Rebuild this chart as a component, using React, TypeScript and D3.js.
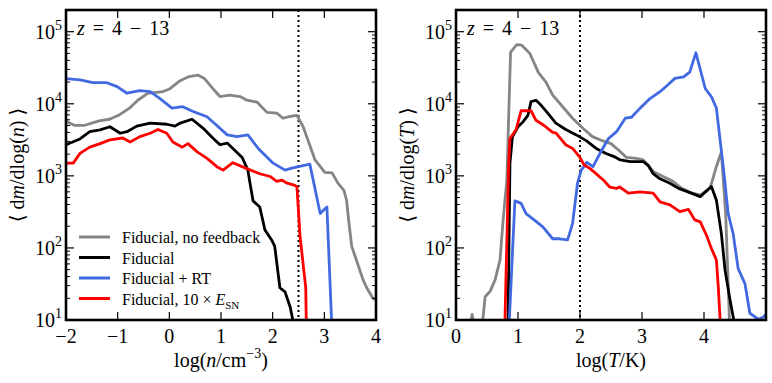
import React from 'react'
import * as d3 from 'd3'

type Pt = [number, number]

// left panel: log(n / cm^-3) vs <dm/dlog(n)>
const densityNoFeedback: Pt[] = [
	[-2.0, 5700], [-1.83, 5000], [-1.65, 5000], [-1.36, 5800], [-1.16, 6100], [-0.97, 7000], [-0.77, 8700],
	[-0.61, 11200], [-0.42, 13900], [-0.13, 14700], [0.0, 16000], [0.19, 20500], [0.36, 23600], [0.55, 25000],
	[0.68, 22400], [0.84, 16300], [0.98, 12600], [1.17, 13200], [1.37, 12600], [1.50, 11200], [1.70, 10500],
	[1.89, 7600], [2.08, 7400], [2.20, 6300], [2.34, 6700], [2.47, 6900], [2.59, 4800], [2.82, 1660],
	[3.01, 1120], [3.15, 1100], [3.26, 800], [3.38, 630], [3.43, 460], [3.47, 245], [3.53, 105], [3.62, 68],
	[3.75, 36], [3.82, 28], [3.94, 20], [4.0, 19],
]
const densityFiducial: Pt[] = [
	[-2.0, 2700], [-1.73, 3250], [-1.54, 4100], [-1.34, 4350], [-1.15, 4800], [-0.95, 3900], [-0.82, 4100],
	[-0.63, 4900], [-0.37, 5400], [-0.05, 5200], [0.11, 4900], [0.21, 5400], [0.44, 6100], [0.65, 4600],
	[0.85, 3300], [0.98, 2700], [1.12, 2850], [1.23, 2400], [1.41, 1800], [1.52, 1200], [1.56, 800],
	[1.62, 450], [1.75, 370], [1.85, 178], [1.98, 129], [2.04, 105], [2.14, 28], [2.24, 24.5], [2.34, 15],
	[2.39, 10],
]
const densityRT: Pt[] = [
	[-2.0, 22400], [-1.73, 21400], [-1.48, 19600], [-1.21, 19600], [-1.01, 17300], [-0.82, 14000],
	[-0.57, 15200], [-0.37, 14700], [-0.18, 11800], [0.05, 8700], [0.26, 9100], [0.46, 7800], [0.73, 6600],
	[0.92, 5000], [1.12, 3700], [1.31, 3500], [1.52, 3700], [1.72, 2400], [2.01, 1500], [2.24, 1200],
	[2.37, 1280], [2.72, 1450], [2.92, 300], [3.05, 370], [3.14, 10],
]
const densityESN: Pt[] = [
	[-2.0, 1500], [-1.86, 1500], [-1.73, 2050], [-1.54, 2500], [-1.34, 2800], [-1.15, 3150], [-0.90, 3350],
	[-0.76, 2950], [-0.57, 3500], [-0.37, 3900], [-0.22, 4400], [-0.05, 3900], [0.07, 2950], [0.25, 2500],
	[0.36, 2800], [0.54, 2150], [0.73, 1750], [0.92, 1340], [1.04, 1200], [1.23, 1520], [1.50, 1260],
	[1.75, 1070], [1.95, 980], [2.08, 840], [2.18, 870], [2.28, 790], [2.43, 740], [2.47, 700], [2.53, 145],
	[2.64, 28], [2.65, 10],
]

// right panel: log(T / K) vs <dm/dlog(T)>
const tempNoFeedback: Pt[] = [
	[0.20, 6], [0.26, 12], [0.31, 7], [0.42, 8], [0.47, 21], [0.55, 25], [0.63, 36], [0.71, 68], [0.76, 245],
	[0.82, 870], [0.88, 52000], [0.98, 66000], [1.06, 65000], [1.19, 50000], [1.33, 27000], [1.45, 20000],
	[1.56, 13200], [1.72, 9100], [1.88, 6300], [2.02, 4800], [2.20, 3500], [2.37, 3050], [2.5, 2800],
	[2.62, 2280], [2.75, 1800], [2.91, 1750], [3.02, 1660], [3.18, 1150], [3.34, 980], [3.50, 840],
	[3.64, 670], [3.80, 580], [3.94, 540], [4.10, 680], [4.20, 1350], [4.28, 2150], [4.35, 300], [4.41, 10],
]
const tempFiducial: Pt[] = [
	[0.84, 10], [0.87, 1500], [0.91, 3470], [1.0, 4800], [1.08, 5600], [1.16, 6900], [1.21, 10700],
	[1.29, 11200], [1.37, 9600], [1.48, 7400], [1.61, 5400], [1.77, 4400], [1.94, 3700], [2.10, 3080],
	[2.26, 2400], [2.42, 2040], [2.55, 1850], [2.65, 1660], [2.81, 1580], [3.02, 1580], [3.10, 1400],
	[3.18, 1070], [3.29, 910], [3.45, 790], [3.59, 670], [3.72, 610], [3.94, 515], [4.12, 710], [4.2, 460],
	[4.28, 158], [4.34, 49], [4.42, 19], [4.48, 10],
]
const tempRT: Pt[] = [
	[0.86, 10], [0.95, 450], [1.05, 415], [1.13, 300], [1.26, 245], [1.40, 196], [1.56, 134], [1.67, 134],
	[1.80, 129], [1.88, 218], [1.96, 790], [2.02, 1200], [2.11, 1540], [2.21, 1340], [2.32, 2040],
	[2.46, 3300], [2.59, 4100], [2.73, 6300], [2.83, 6500], [2.97, 8700], [3.13, 11800], [3.29, 14700],
	[3.42, 18400], [3.53, 22500], [3.67, 23600], [3.77, 27500], [3.87, 51000], [4.02, 16300], [4.12, 12500],
	[4.20, 8700], [4.31, 1340], [4.39, 300], [4.47, 158], [4.55, 52], [4.66, 32], [4.74, 12.4], [4.88, 10.2],
	[4.96, 11], [5.0, 12],
]
const tempESN: Pt[] = [
	[0.79, 10], [0.85, 1500], [0.87, 3300], [0.97, 4400], [1.05, 8000], [1.21, 8000], [1.29, 5900],
	[1.42, 5000], [1.56, 4000], [1.61, 3950], [1.77, 2700], [1.88, 2400], [1.99, 1850], [2.07, 1400],
	[2.16, 1270], [2.38, 870], [2.48, 700], [2.59, 670], [2.64, 700], [2.78, 575], [2.97, 600], [3.18, 575],
	[3.29, 435], [3.45, 395], [3.61, 318], [3.75, 342], [3.85, 245], [3.94, 230], [4.04, 150], [4.12, 98],
	[4.20, 68], [4.23, 29], [4.26, 10],
]

const densityTicks = [-2, -1, 0, 1, 2, 3, 4]
const tempTicks = [0, 1, 2, 3, 4, 5]
const tempTickLabels = [0, 1, 2, 3, 4]
const yDecades = [1, 2, 3, 4, 5]
const legendLabels = ['Fiducial, no feedback', 'Fiducial', 'Fiducial + RT', 'Fiducial, 10 × E']

const COLORS = ['#858585', '#000000', '#4169e1', '#ff0000']
const FONT = '"Liberation Serif", "DejaVu Serif", serif'
const Y_DOMAIN: [number, number] = [10, 2e5]
const TOP = 10
const BOTTOM = 320
const WIDTH = 310

function fmtTick(v: number) {
	return v < 0 ? '\u2212' + Math.abs(v) : String(v)
}

function Panel(props: any) {
	const { id, left, xDomain, xTicks, xTickLabels, series, refX, xLabel, yLabel, legend } = props
	const x = d3.scaleLinear().domain(xDomain).range([left, left + WIDTH])
	const y = d3.scaleLog().domain(Y_DOMAIN).range([BOTTOM, TOP])
	const line = d3.line<Pt>().x(d => x(d[0])).y(d => y(d[1]))

	const minor: number[] = []
	yDecades.forEach(k => {
		for (let m = 2; m <= 9; m++) {
			const v = m * Math.pow(10, k)
			if (v < Y_DOMAIN[1]) minor.push(v)
		}
	})
	const right = left + WIDTH

	return (
		<g fontFamily={FONT}>
			<defs>
				<clipPath id={id}>
					<rect x={left} y={TOP} width={WIDTH} height={BOTTOM - TOP} />
				</clipPath>
			</defs>
			<line x1={x(refX)} x2={x(refX)} y1={TOP} y2={BOTTOM} stroke="#000" strokeWidth={2} strokeDasharray="2,3" />
			<g clipPath={`url(#${id})`}>
				{series.map((s: Pt[], i: number) => (
					<path key={i} d={line(s) || ''} stroke={COLORS[i]} strokeWidth={2.8} fill="none" strokeLinejoin="round" />
				))}
			</g>

			{/* x ticks */}
			{xTicks.map((t: number) => (
				<g key={'x' + t}>
					<line x1={x(t)} x2={x(t)} y1={BOTTOM} y2={BOTTOM - 8} stroke="#000" strokeWidth={1.2} />
					<line x1={x(t)} x2={x(t)} y1={TOP} y2={TOP + 8} stroke="#000" strokeWidth={1.2} />
				</g>
			))}
			{xTickLabels.map((t: number) => (
				<text key={'xl' + t} x={x(t)} y={BOTTOM + 23} fontSize={20} textAnchor="middle">{fmtTick(t)}</text>
			))}

			{/* y ticks */}
			{yDecades.map(k => {
				const v = Math.pow(10, k)
				return (
					<g key={'y' + k}>
						<line x1={left} x2={left + 8} y1={y(v)} y2={y(v)} stroke="#000" strokeWidth={1.2} />
						<line x1={right} x2={right - 8} y1={y(v)} y2={y(v)} stroke="#000" strokeWidth={1.2} />
						<text x={left - 4} y={y(v) + 7} fontSize={20} textAnchor="end">
							<tspan>10</tspan>
							<tspan dy={-9} fontSize={14}>{k}</tspan>
						</text>
					</g>
				)
			})}
			{minor.map(v => (
				<g key={'m' + v}>
					<line x1={left} x2={left + 4} y1={y(v)} y2={y(v)} stroke="#000" strokeWidth={1} />
					<line x1={right} x2={right - 4} y1={y(v)} y2={y(v)} stroke="#000" strokeWidth={1} />
				</g>
			))}

			<rect x={left} y={TOP} width={WIDTH} height={BOTTOM - TOP} fill="none" stroke="#000" strokeWidth={2.6} />

			<text x={left + 11} y={35} fontSize={20} wordSpacing={3}>
				<tspan fontStyle="italic">z</tspan> = 4 − 13
			</text>

			{/* axis labels */}
			<text x={left + WIDTH / 2} y={367} fontSize={20} textAnchor="middle">
				{xLabel}
			</text>
			<text transform={`translate(${left - 42},${(TOP + BOTTOM) / 2}) rotate(-90)`} fontSize={20} textAnchor="middle">
				⟨ d<tspan fontStyle="italic">m</tspan>/dlog(<tspan fontStyle="italic">{yLabel}</tspan>) ⟩
			</text>

			{legend &&
				legendLabels.map((lab, i) => {
					const ly = 237 + i * 20.5
					return (
						<g key={lab}>
							<line x1={left + 13} x2={left + 44} y1={ly} y2={ly} stroke={COLORS[i]} strokeWidth={3} />
							<text x={left + 56} y={ly + 6} fontSize={16}>
								{i === 3 ? (
									<>
										Fiducial, 10 × <tspan fontStyle="italic">E</tspan>
										<tspan dy={4} fontSize={11}>SN</tspan>
									</>
								) : (
									lab
								)}
							</text>
						</g>
					)
				})}
		</g>
	)
}

export default function App() {
	return (
		<svg width={772} height={383} style={{ position: 'absolute', left: 0, top: 0, background: '#fff' }}>
			<Panel
				id="clipL"
				left={66}
				xDomain={[-2, 4]}
				xTicks={densityTicks}
				xTickLabels={densityTicks}
				series={[densityNoFeedback, densityFiducial, densityRT, densityESN]}
				refX={2.5}
				xLabel={
					<>
						log(<tspan fontStyle="italic">n</tspan>/cm<tspan dy={-9} fontSize={14}>−3</tspan>
						<tspan dy={9}>)</tspan>
					</>
				}
				yLabel="n"
				legend
			/>
			<Panel
				id="clipR"
				left={456}
				xDomain={[0, 5]}
				xTicks={tempTicks}
				xTickLabels={tempTickLabels}
				series={[tempNoFeedback, tempFiducial, tempRT, tempESN]}
				refX={2}
				xLabel={
					<>
						log(<tspan fontStyle="italic">T</tspan>/K)
					</>
				}
				yLabel="T"
			/>
		</svg>
	)
}
